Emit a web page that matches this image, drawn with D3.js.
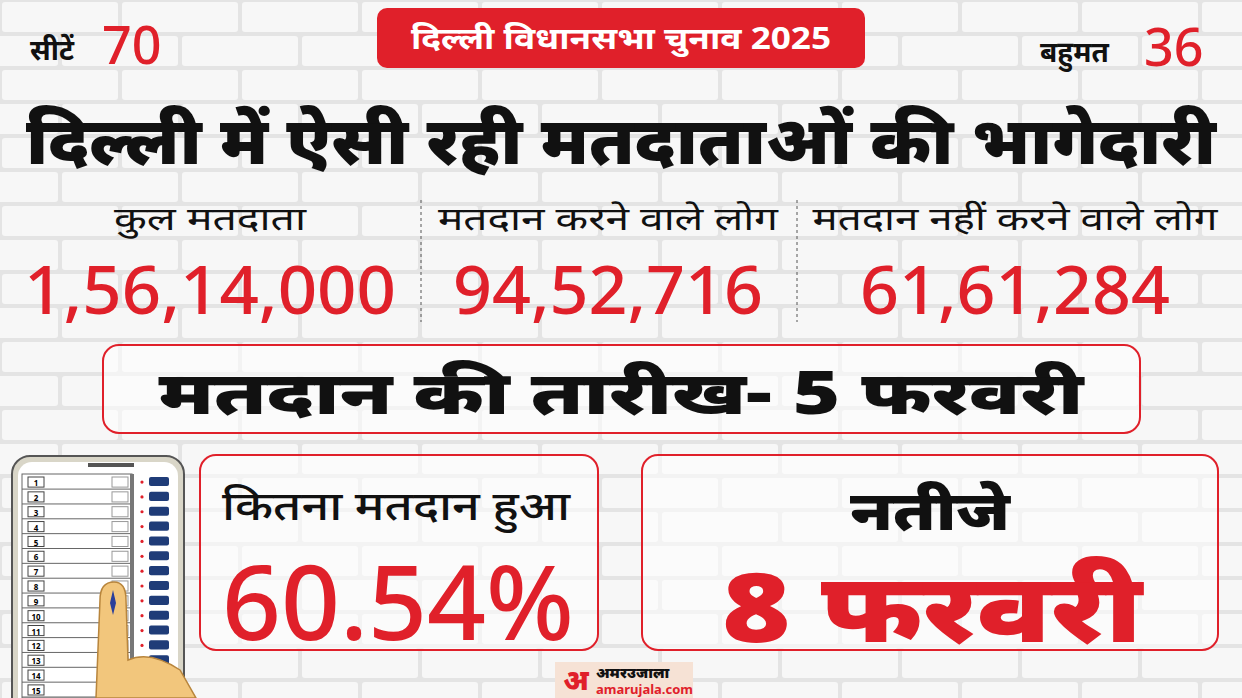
<!DOCTYPE html>
<html lang="hi">
<head>
<meta charset="UTF-8">
<title>दिल्ली विधानसभा चुनाव 2025</title>
<style>
  body { margin: 0; background: #eee; font-family: 'Noto Sans', 'Noto Sans Devanagari', sans-serif; }
  svg { display: block; }
</style>
<script src="https://cdnjs.cloudflare.com/ajax/libs/d3/7.8.5/d3.min.js"></script>
</head>
<body>
<div id="chart"></div>
<script>
// chart values
var topLeft = { label: "सीटें", value: "70" };
var topRight = { label: "बहुमत", value: "36" };
var badge = "दिल्ली विधानसभा चुनाव 2025";
var headline = "दिल्ली में ऐसी रही मतदाताओं की भागेदारी";
var statLabels = ["कुल मतदाता", "मतदान करने वाले लोग", "मतदान नहीं करने वाले लोग"];
var statValues = ["1,56,14,000", "94,52,716", "61,61,284"];
var pollDate = "मतदान की तारीख- 5 फरवरी";
var turnoutLabel = "कितना मतदान हुआ";
var turnoutValue = "60.54%";
var resultLabel = "नतीजे";
var resultDate = "8 फरवरी";
var evmRows = d3.range(1, 16);

var W = 1242, H = 698, RED = "#e0202a";

var svg = d3.select("#chart").append("svg").attr("width", W).attr("height", H);

// brick wall background
svg.append("rect").attr("width", W).attr("height", H).attr("fill", "#e4e4e4");
var brickH = 34, brickW = 120;
d3.range(0, Math.ceil(H / brickH)).forEach(function(r) {
  var off = (r % 2) * brickW / 2;
  d3.range(-1, Math.ceil(W / brickW) + 1).forEach(function(c) {
    svg.append("rect")
      .attr("x", c * brickW + off + 2).attr("y", r * brickH + 2)
      .attr("width", brickW - 4).attr("height", brickH - 4)
      .attr("rx", 3).attr("fill", "#f7f7f7");
  });
});

function txt(x, y, s, size, color, weight, anchor, len) {
  var t = svg.append("text").attr("x", x).attr("y", y).text(s)
    .attr("font-size", size).attr("fill", color)
    .attr("font-weight", weight || "normal")
    .attr("text-anchor", anchor || "start");
  if (len) t.attr("textLength", len).attr("lengthAdjust", "spacingAndGlyphs");
  return t;
}

// top corners
txt(30, 60, topLeft.label, 28, "#111", "bold");
txt(102, 64, topLeft.value, 52, RED, "500");
txt(1040, 62, topRight.label, 28, "#111", "bold");
txt(1144, 66, topRight.value, 52, RED, "500");

// badge
svg.append("rect").attr("x", 377).attr("y", 8).attr("width", 488).attr("height", 60)
  .attr("rx", 10).attr("fill", RED);
txt(621, 49, badge, 30, "#fff", "bold", "middle", 420);

// headline
txt(621, 164, headline, 66, "#111", "900", "middle", 1190);

// stats columns
var centers = [210, 608, 1015];
var labelLens = [192, 340, 405];
var valueLens = [372, 310, 310];
statLabels.forEach(function(l, i) {
  txt(centers[i], 230, l, 32, "#111", "normal", "middle", labelLens[i]);
  txt(centers[i], 314, statValues[i], 68, RED, "500", "middle", valueLens[i]);
});
[421, 797].forEach(function(x) {
  svg.append("line").attr("x1", x).attr("x2", x).attr("y1", 200).attr("y2", 322)
    .attr("stroke", "#555").attr("stroke-dasharray", "3,3");
});

// boxes
function box(x, y, w, h) {
  svg.append("rect").attr("x", x).attr("y", y).attr("width", w).attr("height", h)
    .attr("rx", 16).attr("fill", "rgba(255,255,255,0.55)")
    .attr("stroke", RED).attr("stroke-width", 2);
}
box(103, 345, 1037, 88);
txt(621, 414, pollDate, 60, "#111", "900", "middle", 925);

box(200, 455, 398, 195);
txt(396, 520, turnoutLabel, 40, "#111", "500", "middle", 348);
txt(398, 640, turnoutValue, 104, RED, "500", "middle", 352);

box(642, 455, 576, 195);
txt(930, 530, resultLabel, 54, "#111", "900", "middle", 160);
txt(932, 642, resultDate, 96, RED, "900", "middle", 420);

// EVM
var evm = svg.append("g");
evm.append("rect").attr("x", 12).attr("y", 456).attr("width", 172).attr("height", 260)
  .attr("rx", 18).attr("fill", "#d9d6c8").attr("stroke", "#555").attr("stroke-width", 2);
evm.append("rect").attr("x", 18).attr("y", 462).attr("width", 160).attr("height", 250)
  .attr("rx", 14).attr("fill", "#fff");
evm.append("rect").attr("x", 88).attr("y", 463).attr("width", 46).attr("height", 4).attr("fill", "#555");
evm.append("rect").attr("x", 22).attr("y", 474).attr("width", 110).attr("height", 224).attr("fill", "#fff").attr("stroke", "#666");
evm.append("rect").attr("x", 130).attr("y", 474).attr("width", 4).attr("height", 224).attr("fill", "#777");
var ry = d3.scaleBand().domain(evmRows).range([475, 697]).paddingInner(0.05);
evmRows.forEach(function(n) {
  var y = ry(n), h = ry.bandwidth();
  evm.append("line").attr("x1", 22).attr("x2", 130).attr("y1", y + h).attr("y2", y + h).attr("stroke", "#666");
  evm.append("rect").attr("x", 28).attr("y", y + 2).attr("width", 16).attr("height", h - 4).attr("fill", "#fff").attr("stroke", "#444");
  evm.append("text").attr("x", 36).attr("y", y + h - 3).attr("text-anchor", "middle")
    .attr("font-size", 8).attr("font-weight", "bold").text(n);
  evm.append("rect").attr("x", 112).attr("y", y + 2).attr("width", 16).attr("height", h - 4).attr("fill", "#fff").attr("stroke", "#999");
  evm.append("circle").attr("cx", 142).attr("cy", y + h / 2).attr("r", 1.6).attr("fill", RED);
  evm.append("rect").attr("x", 149).attr("y", y + 2).attr("width", 20).attr("height", h - 5).attr("rx", 2).attr("fill", "#1f3c78");
});
// finger
evm.append("path")
  .attr("d", "M100,600 Q100,582 114,582 Q126,582 126,600 L128,660 Q150,650 180,670 L196,698 L96,698 Z")
  .attr("fill", "#f2c67c").attr("stroke", "#b8853c").attr("stroke-width", 1.5);
evm.append("path").attr("d", "M113,590 L110,603 L113,615 L116,603 Z").attr("fill", "#2b3f9a");

// logo
svg.append("rect").attr("x", 555).attr("y", 662).attr("width", 138).attr("height", 36).attr("fill", "#f6e2d5");
txt(576, 690, "अ", 28, RED, "900", "middle");
txt(596, 678, "अमरउजाला", 15, "#111", "900");
txt(596, 694, "amarujala.com", 13, RED, "bold");
</script>
</body>
</html>
